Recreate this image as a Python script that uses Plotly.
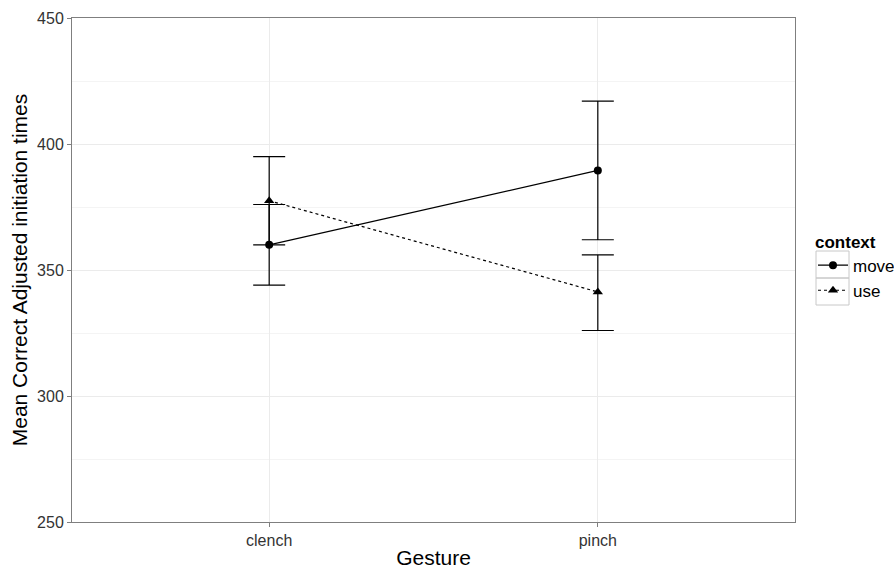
import plotly.graph_objects as go

# Mean initiation times by gesture and context, with error bar limits
gestures = ["clench", "pinch"]
move_mean = [360, 389.5]
move_low = [344, 362]
move_high = [376, 417]
use_mean = [377.5, 341.3]
use_low = [360, 326]
use_high = [395, 356]

y_ticks = [250, 300, 350, 400, 450]

W, H = 894, 569
M_L, M_R, M_T, M_B = 72, 99, 18, 47
PLOT_W = W - M_L - M_R
PLOT_H = H - M_T - M_B


def err(mean, low, high):
    return dict(
        type="data",
        symmetric=False,
        array=[h - m for h, m in zip(high, mean)],
        arrayminus=[m - l for m, l in zip(mean, low)],
        color="black",
        thickness=1.2,
        width=16,
    )


fig = go.Figure()
fig.add_trace(go.Scatter(
    x=gestures, y=move_mean, name="move", mode="lines+markers",
    line=dict(color="black", width=1.2, dash="solid"),
    marker=dict(symbol="circle", size=8, color="black"),
    error_y=err(move_mean, move_low, move_high),
))
fig.add_trace(go.Scatter(
    x=gestures, y=use_mean, name="use", mode="lines+markers",
    line=dict(color="black", width=1.2, dash="dot"),
    marker=dict(symbol="triangle-up", size=9, color="black"),
    error_y=err(use_mean, use_low, use_high),
))

axis_common = dict(
    showline=True, linecolor="#7f7f7f", linewidth=1, mirror=True,
    ticks="outside", ticklen=4, tickcolor="#7f7f7f",
    tickfont=dict(family="Liberation Sans, Arial, sans-serif", size=16, color="#333333"),
    showgrid=True, gridcolor="#ebebeb", gridwidth=1, zeroline=False,
)

# Key boxes around the legend entries (page pixel coordinates)
key_boxes = [(816, 251, 849, 278), (816, 278, 849, 305)]
shapes = [
    dict(type="rect", xref="paper", yref="paper",
         x0=(x0 - M_L) / PLOT_W, x1=(x1 - M_L) / PLOT_W,
         y0=1 - (y1 - M_T) / PLOT_H, y1=1 - (y0 - M_T) / PLOT_H,
         line=dict(color="#c8c8c8", width=1), fillcolor="rgba(0,0,0,0)",
         layer="below")
    for x0, y0, x1, y1 in key_boxes
]

fig.update_layout(
    width=W, height=H,
    margin=dict(l=M_L, r=M_R, t=M_T, b=M_B, autoexpand=False),
    paper_bgcolor="white", plot_bgcolor="white",
    font=dict(family="Liberation Sans, Arial, sans-serif", color="black"),
    xaxis=dict(
        **axis_common,
        automargin=True,
        type="category", range=[-0.6, 1.6],
        title=dict(text="Gesture", font=dict(size=21), standoff=6),
    ),
    yaxis=dict(
        **axis_common,
        automargin=False,
        range=[250, 450], tickvals=y_ticks,
        minor=dict(dtick=25, tick0=250, showgrid=True, gridcolor="#f4f4f4", gridwidth=1),
        title=dict(text="Mean Correct Adjusted initiation times", font=dict(size=21), standoff=3),
    ),
    legend=dict(
        title=dict(text="<b>context</b>", font=dict(size=17)),
        font=dict(size=17),
        xref="container", yref="container",
        x=813 / W, xanchor="left", y=1 - 267 / H, yanchor="middle",
        bgcolor="rgba(0,0,0,0)", itemwidth=30, tracegroupgap=0,
    ),
    shapes=shapes,
)

fig.write_html("out.html")
